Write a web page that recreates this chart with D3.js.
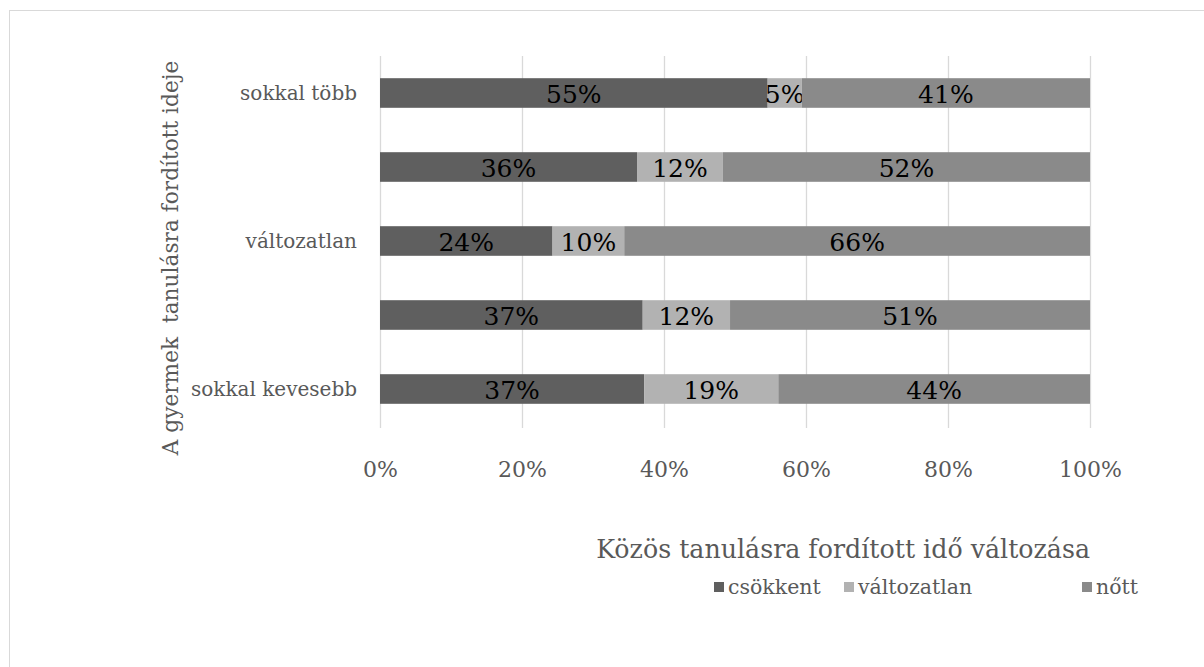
<!DOCTYPE html>
<meta charset="utf-8">
<style>
  body { margin: 0; background: #fff; }
  text { font-family: "DejaVu Serif", serif; }
</style>
<svg width="1204" height="667"></svg>
<script src="https://d3js.org/d3.v7.min.js"></script>
<script>

// rows from top to bottom
var categories = ["sokkal több", "", "változatlan", "", "sokkal kevesebb"];
var series = ["csökkent", "változatlan", "nőtt"];
var csokkent    = [0.546, 0.362, 0.243, 0.370, 0.372];
var valtozatlan = [0.048, 0.121, 0.101, 0.123, 0.189];
var nott        = [0.406, 0.517, 0.656, 0.507, 0.439];
var ticks = [0, 0.2, 0.4, 0.6, 0.8, 1];
var colors = ["#5f5f5f", "#b2b2b2", "#8a8a8a"];

var svg = d3.select("svg");

// chart border
svg.append("rect")
    .attr("x", 9.5).attr("y", 10.5)
    .attr("width", 1204).attr("height", 667)
    .attr("fill", "none")
    .attr("stroke", "#d9d9d9");

var plotLeft = 380, plotRight = 1090, plotTop = 56, plotBottom = 426;

var rows = categories.map(function(c, i) {
  return { key: "r" + i, label: c, values: [csokkent[i], valtozatlan[i], nott[i]] };
});

var x = d3.scaleLinear().domain([0, 1]).range([plotLeft, plotRight]);
var y = d3.scaleBand()
    .domain(rows.map(function(d) { return d.key; }))
    .range([plotTop, plotBottom])
    .paddingInner(0.6)
    .paddingOuter(0.3);

var stack = d3.stack()
    .keys([0, 1, 2])
    .value(function(d, k) { return d.values[k]; });
var layers = stack(rows);

// gridlines
svg.append("g").selectAll("line")
  .data(ticks)
  .enter().append("line")
    .attr("x1", function(d) { return Math.round(x(d)) + 0.5; })
    .attr("x2", function(d) { return Math.round(x(d)) + 0.5; })
    .attr("y1", plotTop)
    .attr("y2", plotBottom + 2)
    .attr("stroke", "#d9d9d9")
    .attr("stroke-width", 1.3);

// bars
var layer = svg.append("g").selectAll("g")
  .data(layers)
  .enter().append("g")
    .attr("fill", function(d, i) { return colors[i]; });

layer.selectAll("rect")
  .data(function(d) { return d; })
  .enter().append("rect")
    .attr("x", function(d) { return x(d[0]); })
    .attr("y", function(d) { return y(d.data.key); })
    .attr("width", function(d) { return x(d[1]) - x(d[0]); })
    .attr("height", y.bandwidth());

var fmt = d3.format(".0%");
layer.selectAll("text")
  .data(function(d) { return d; })
  .enter().append("text")
    .attr("x", function(d) { return (x(d[0]) + x(d[1])) / 2; })
    .attr("y", function(d) { return y(d.data.key) + y.bandwidth() / 2; })
    .attr("dy", "0.4em")
    .attr("text-anchor", "middle")
    .attr("fill", "#000")
    .attr("font-size", 25)
    .text(function(d) { return fmt(d[1] - d[0]); });

// category labels
svg.append("g").selectAll("text")
  .data(rows)
  .enter().append("text")
    .attr("x", 357)
    .attr("y", function(d) { return y(d.key) + y.bandwidth() / 2; })
    .attr("dy", "0.35em")
    .attr("text-anchor", "end")
    .attr("fill", "#595959")
    .attr("font-size", 20)
    .text(function(d) { return d.label; });

// x tick labels
var xAxis = svg.append("g")
    .attr("transform", "translate(0," + 461 + ")")
    .call(d3.axisBottom(x).tickValues(ticks).tickFormat(d3.format(".0%")).tickSize(0).tickPadding(0));
xAxis.select(".domain").remove();
xAxis.selectAll("text")
    .attr("fill", "#595959")
    .attr("font-size", 22)
    .attr("font-family", "DejaVu Serif, serif");

// axis titles
svg.append("text")
    .attr("x", plotRight)
    .attr("y", 558)
    .attr("text-anchor", "end")
    .attr("fill", "#595959")
    .attr("font-size", 25.3)
    .text("Közös tanulásra fordított idő változása");

svg.append("text")
    .attr("transform", "translate(178,258) rotate(-90)")
    .attr("text-anchor", "middle")
    .attr("fill", "#595959")
    .attr("font-size", 21.7)
    .style("white-space", "pre")
    .text("A gyermek  tanulásra fordított ideje");

// legend
var legendX = [714, 844, 1082];
var legend = svg.append("g").selectAll("g")
  .data(series)
  .enter().append("g")
    .attr("transform", function(d, i) { return "translate(" + legendX[i] + ",587)"; });

legend.append("rect")
    .attr("x", 0).attr("y", -5)
    .attr("width", 10).attr("height", 10)
    .attr("fill", function(d, i) { return colors[i]; });

legend.append("text")
    .attr("x", 14)
    .attr("dy", "0.35em")
    .attr("fill", "#595959")
    .attr("font-size", 20.5)
    .text(function(d) { return d; });

</script>
